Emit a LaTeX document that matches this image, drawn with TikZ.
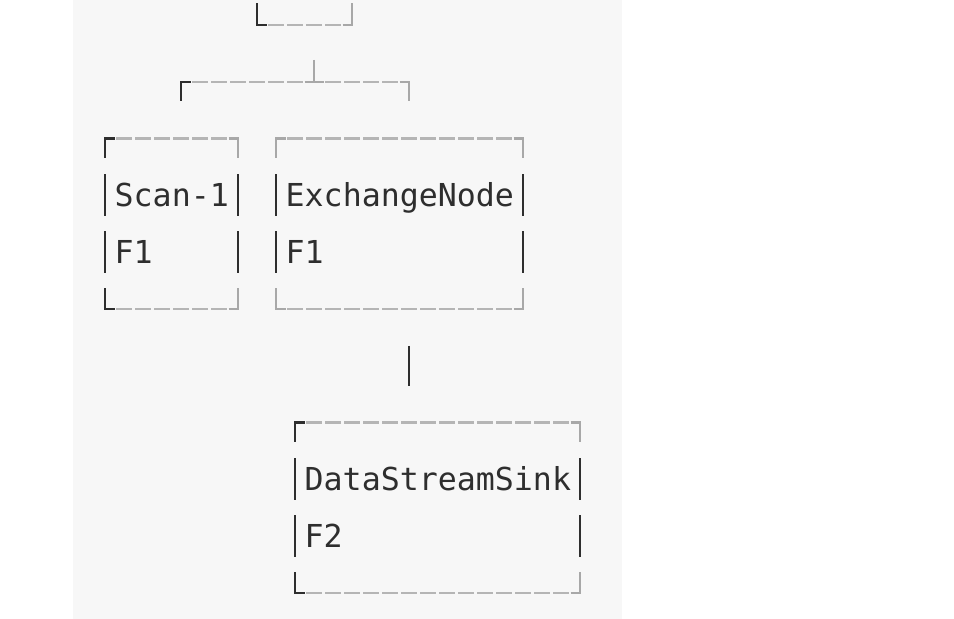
\documentclass[tikz,border=0pt]{standalone}
\usepackage{fontspec}
\setmonofont{DejaVu Sans Mono}
\definecolor{bggray}{HTML}{F7F7F7}
\definecolor{inkdark}{HTML}{2E2E2E}
\definecolor{dashgray}{HTML}{B5B5B5}
\definecolor{cornergray}{HTML}{A8A8A8}
\newcommand\asciibox[6]{%
  \draw[#5] ({cx(#1)},{ry(#3)+19}) -- ({cx(#1)},{ry(#3)}) -- ({cx(#1)+9.5},{ry(#3)});
  \draw[#5] ({cx(#1)},{ry(#4)-21}) -- ({cx(#1)},{ry(#4)}) -- ({cx(#1)+9.5},{ry(#4)});
  \draw[#6] ({cx(#2)-9.5},{ry(#3)}) -- ({cx(#2)},{ry(#3)}) -- ({cx(#2)},{ry(#3)+19});
  \draw[#6] ({cx(#2)-9.5},{ry(#4)}) -- ({cx(#2)},{ry(#4)}) -- ({cx(#2)},{ry(#4)-21});
  \draw[dashln] ({cx(#1)+9.5},{ry(#3)}) -- ({cx(#2)-9.5},{ry(#3)});
  \draw[dashln] ({cx(#1)+9.5},{ry(#4)}) -- ({cx(#2)-9.5},{ry(#4)});
  \foreach \r in {1,2} {
    \draw[barln] ({cx(#1)},{ry(#3+\r)-21}) -- ({cx(#1)},{ry(#3+\r)+21});
    \draw[barln] ({cx(#2)},{ry(#3+\r)-21}) -- ({cx(#2)},{ry(#3+\r)+21});
  }%
}
\begin{document}
\begin{tikzpicture}[x=1pt,y=-1pt,
  declare function={cx(\c)=105+19*\c; ry(\r)=25+56.8*\r;},
  dashln/.style={draw=dashgray, line width=2.4pt, dash pattern=on 0pt off 1.8pt on 15.4pt off 1.8pt},
  darkcorner/.style={draw=inkdark, line width=2.6pt, line join=miter},
  graycorner/.style={draw=cornergray, line width=2.4pt, line join=miter},
  barln/.style={draw=inkdark, line width=2.8pt},
  txt/.style={font=\ttfamily\fontsize{31.6}{38}\selectfont, text=inkdark, inner sep=0pt, anchor=base west}]
\useasboundingbox (0,0) rectangle (954,619);
\fill[white] (0,0) rectangle (954,619);
\fill[bggray] (73,0) rectangle (622,619);

% top box (bottom edge only visible)
\draw[darkcorner] ({cx(8)},{ry(0)-22}) -- ({cx(8)},{ry(0)}) -- ({cx(8)+9.5},{ry(0)});
\draw[graycorner] ({cx(13)-9.5},{ry(0)}) -- ({cx(13)},{ry(0)}) -- ({cx(13)},{ry(0)-22});
\draw[dashln] ({cx(8)+9.5},{ry(0)}) -- ({cx(13)-9.5},{ry(0)});

% fork connector
\coordinate (forkmid) at ({cx(11)},{ry(1)});
\coordinate (forktop) at ({cx(11)},{ry(1)-22});
\coordinate (forkL) at ({cx(4)},{ry(1)});
\coordinate (forkR) at ({cx(16)},{ry(1)});
\draw[darkcorner] ({cx(4)},{ry(1)+19}) -- (forkL) -- ({cx(4)+9.5},{ry(1)});
\draw[graycorner] ({cx(16)-9.5},{ry(1)}) -- (forkR) -- ({cx(16)},{ry(1)+19});
\draw[dashln] ({cx(4)+9.5},{ry(1)}) -- ({cx(16)-9.5},{ry(1)});
\draw[graycorner] ({cx(11)-9.5},{ry(1)}) -- ({cx(11)+9.5},{ry(1)});
\draw[graycorner] (forktop) -- (forkmid);

% Scan-1 box
\asciibox{0}{7}{2}{5}{darkcorner}{graycorner}
\node[txt] (scan) at ({cx(1)-9.5},{ry(3)+11}) {Scan-1};
\node[txt] (scanf) at ({cx(1)-9.5},{ry(4)+11}) {F1};

% ExchangeNode box
\asciibox{9}{22}{2}{5}{graycorner}{graycorner}
\node[txt] (exch) at ({cx(10)-9.5},{ry(3)+11}) {ExchangeNode};
\node[txt] (exchf) at ({cx(10)-9.5},{ry(4)+11}) {F1};

% vertical connector
\coordinate (vtop) at ({cx(16)},{ry(6)-20});
\coordinate (vbot) at ({cx(16)},{ry(6)+20});
\draw[barln] (vtop) -- (vbot);

% DataStreamSink box
\asciibox{10}{25}{7}{10}{darkcorner}{graycorner}
\node[txt] (sink) at ({cx(11)-9.5},{ry(8)+11}) {DataStreamSink};
\node[txt] (sinkf) at ({cx(11)-9.5},{ry(9)+11}) {F2};
\end{tikzpicture}
\end{document}
